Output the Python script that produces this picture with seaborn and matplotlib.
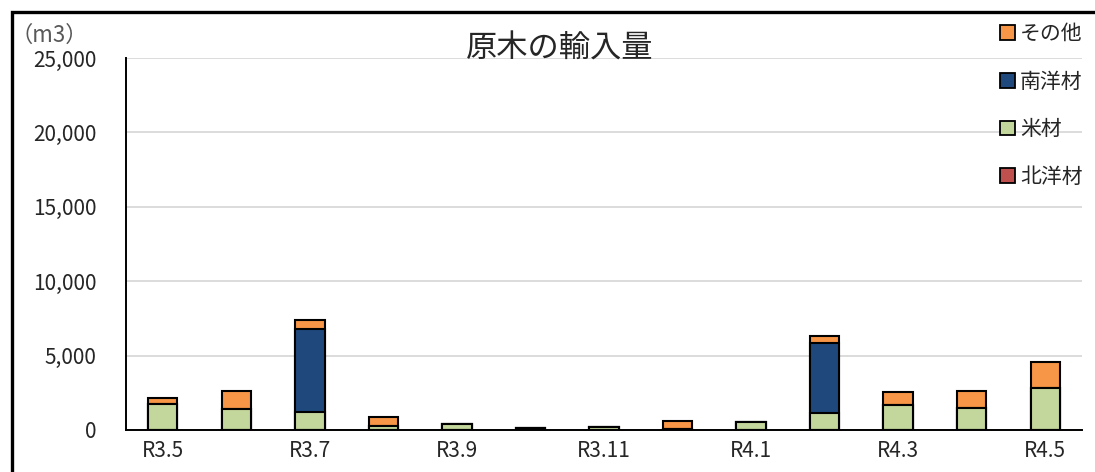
import numpy as np
import pandas as pd
import matplotlib.pyplot as plt
import seaborn as sns
from matplotlib.patches import Patch, Rectangle

# Monthly log imports (m3)
months = ['R3.5', 'R3.6', 'R3.7', 'R3.8', 'R3.9', 'R3.10', 'R3.11',
          'R3.12', 'R4.1', 'R4.2', 'R4.3', 'R4.4', 'R4.5']
hokuyo = [0, 0, 0, 0, 0, 0, 0, 0, 0, 0, 0, 0, 0]           # 北洋材
beizai = [1740, 1430, 1230, 250, 400, 120, 200, 100, 560, 1140, 1680, 1450, 2815]  # 米材
nanyo = [0, 0, 5580, 0, 0, 0, 0, 0, 0, 4730, 0, 0, 0]       # 南洋材
sonota = [440, 1170, 560, 650, 0, 0, 0, 480, 0, 450, 890, 1200, 1785]  # その他

series = ['北洋材', '米材', '南洋材', 'その他']
colors = {'北洋材': '#C0504D', '米材': '#C3D69B', '南洋材': '#1F497D', 'その他': '#F79646'}

df = pd.DataFrame({'month': months, '北洋材': hokuyo, '米材': beizai,
                   '南洋材': nanyo, 'その他': sonota})

sns.set_style('white')
plt.rcParams['font.family'] = ['Noto Sans CJK JP', 'DejaVu Sans']

fig = plt.figure(figsize=(10.95, 4.72), dpi=100)
ax = fig.add_axes([126 / 1095, 1 - 430 / 472, (1082 - 126) / 1095, (430 - 58) / 472])

# stacked bars: draw cumulative totals from the top layer down
cum = df[series].cumsum(axis=1)
for name in reversed(series):
    sns.barplot(x=df['month'], y=cum[name], order=months, color=colors[name],
                width=0.4, edgecolor='black', linewidth=1.5, saturation=1,
                ax=ax, zorder=3)

ax.set_ylim(0, 25000)
ax.set_xlim(-0.5, 12.5)
ax.set_yticks(np.arange(0, 25001, 5000))
ax.set_yticklabels(['{:,}'.format(v) for v in range(0, 25001, 5000)], fontsize=15)
ax.set_xticks(range(0, 13, 2))
ax.set_xticklabels(months[::2], fontsize=15)
ax.set_xticks(np.arange(-0.5, 12, 2), minor=True)
ax.tick_params(axis='x', which='major', length=0, pad=7)
ax.tick_params(axis='x', which='minor', length=6, width=1.3, color='black', direction='out')
ax.tick_params(axis='y', length=0, pad=21)
ax.set_xlabel('')
ax.set_ylabel('')
ax.grid(axis='y', color='#D9D9D9', linewidth=1.3, zorder=0)
ax.set_axisbelow(True)
for s in ['top', 'right']:
    ax.spines[s].set_visible(False)
for s in ['left', 'bottom']:
    ax.spines[s].set_color('black')
    ax.spines[s].set_linewidth(1.4)
    ax.spines[s].set_zorder(4)

fig.text(560 / 1095, 1 - 49 / 472, '原木の輸入量', fontsize=22.5, ha='center', va='center')
fig.text(10 / 1095, 1 - 35 / 472, '（m3）', fontsize=16, color='#595959', ha='left', va='center')

handles = [Patch(facecolor=colors[n], edgecolor='black', linewidth=1.3, label=n)
           for n in reversed(series)]
fig.legend(handles=handles, loc='upper left', bbox_to_anchor=(1000 / 1095, 1 - 23 / 472),
           frameon=False, fontsize=15, handlelength=0.7, handleheight=0.7,
           handletextpad=0.25, labelspacing=1.23, borderpad=0, borderaxespad=0)

# outer chart frame (cropped at right and bottom in the reference)
fig.add_artist(Rectangle((11.5 / 1095, -0.2), 1.2, 1.2 - 11.5 / 472,
                         transform=fig.transFigure, fill=False,
                         edgecolor='black', linewidth=2.4))

fig.savefig('out.png', dpi=100)
